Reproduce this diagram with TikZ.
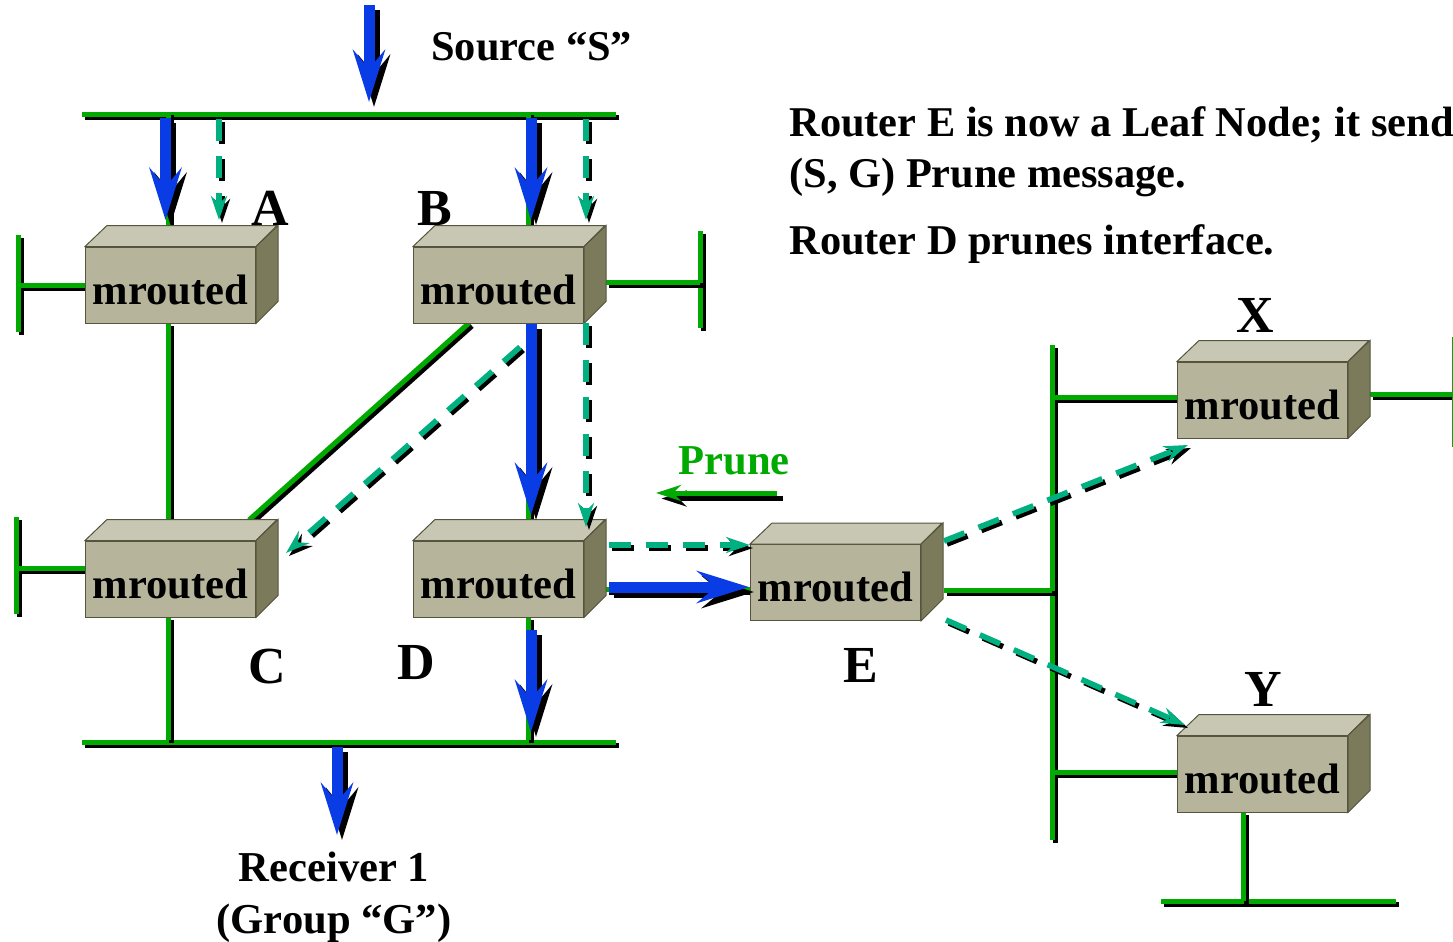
\documentclass[tikz,border=0pt]{standalone}
\usepackage{fontspec}
\setmainfont{Liberation Serif}
\usetikzlibrary{arrows.meta, calc}
\definecolor{wiregreen}{HTML}{00AA00}
\definecolor{flowblue}{HTML}{0A3CE6}
\definecolor{pruneteal}{HTML}{00B080}
\definecolor{boxfront}{HTML}{B6B59B}
\definecolor{boxtop}{HTML}{C8C7B3}
\definecolor{boxside}{HTML}{7B7B5B}
\definecolor{boxedge}{HTML}{55553F}
\tikzset{
    my-shadow/.style={
        draw=black, transform canvas={shift={(#1,-#1)}}
    },
    my-wire/.style={
        draw=wiregreen, line width=2.5pt
    },
    my-flow/.style={
        draw=flowblue, line width=5.5pt, -{Stealth[length=26pt, width=16pt, inset=9.5pt]}
    },
    my-dash/.style={
        draw=pruneteal, line width=2.8pt, dash pattern=on 11pt off 7.5pt,
        -{Stealth[length=12pt, width=8pt, inset=4pt]}
    },
    my-prune/.style={
        draw=wiregreen, line width=2.5pt, -{Stealth[length=12.5pt, width=8pt, inset=4pt]}
    },
    my-router/.style={
        draw=boxedge, fill=boxfront, line width=.5pt, minimum width=85pt,
        inner xsep=0pt, inner ysep=0pt, text height=28.5pt, text depth=9.5pt,
        font=\fontsize{21.3}{21.3}\selectfont\bfseries
    },
    my-label/.style={
        font=\fontsize{26}{26}\selectfont\bfseries, anchor=base, inner sep=0pt
    },
    my-text/.style={
        font=\fontsize{21.2}{21.2}\selectfont\bfseries, anchor=base west, inner sep=0pt
    },
    my-center-text/.style={
        font=\fontsize{21.3}{21.3}\selectfont\bfseries, anchor=base, inner sep=0pt
    },
}
% every line is drawn twice, black copy first
\newcommand{\myline}[4][1.5pt]{
    \draw[#2, my-shadow=#1] (#3) -- (#4);
    \draw[#2] (#3) -- (#4);
}
% box front is the node, top and side faces are added
\newcommand{\myrouter}[2]{
    \node[my-router] (#1) at (#2) {mrouted};
    \draw[draw=boxedge, fill=boxtop, line width=.5pt] (#1.north west) -- ++(22,-21) -- ++(170,0) -- (#1.north east) -- cycle;
    \draw[draw=boxedge, fill=boxside, line width=.5pt] (#1.north east) -- ++(22,-21) -- ++(0,76) -- (#1.south east) -- cycle;
}
\begin{document}
\begin{tikzpicture}[x=.5pt, y=-.5pt]
    \useasboundingbox (0,0) rectangle (1453,942);

    % ROUTER POSITIONS ----------------------------------------------------------------------------
    \coordinate[] (APOS) at (170.5, 285);
    \coordinate[] (BPOS) at (498.5, 285);
    \coordinate[] (CPOS) at (170.5, 579);
    \coordinate[] (DPOS) at (498.5, 579);
    \coordinate[] (EPOS) at (835.5, 582.5);
    \coordinate[] (XPOS) at (1262.5, 400);
    \coordinate[] (YPOS) at (1262.5, 774);

    % BUSES
    \coordinate[] (TOPL) at (82, 114);
    \coordinate[] (TOPR) at (616, 114);
    \coordinate[] (BOTL) at (82, 742);
    \coordinate[] (BOTR) at (616, 742);
    \coordinate[] (RIGHTT) at (1052, 345);
    \coordinate[] (RIGHTB) at (1052, 840);
    \coordinate[] (YBUSL) at (1161, 901);
    \coordinate[] (YBUSR) at (1396, 901);

    % WIRES ---------------------------------------------------------------------------------------
    \myline{my-wire}{TOPL}{TOPR}
    \myline{my-wire}{BOTL}{BOTR}
    \myline{my-wire}{RIGHTT}{RIGHTB}
    \myline{my-wire}{YBUSL}{YBUSR}

    % VERTICAL WIRES
    \myline{my-wire}{168.5,112}{168.5,246}
    \myline{my-wire}{528.5,112}{528.5,246}
    \myline{my-wire}{168.5,323}{168.5,541}
    \myline{my-wire}{528.5,323}{528.5,541}
    \myline{my-wire}{168.5,617}{168.5,740}
    \myline{my-wire}{528.5,617}{528.5,740}
    \myline{my-wire}{1243.5,812}{1243.5,901}

    % STUBS AND END BARS
    \myline{my-wire}{18.5,235}{18.5,332}
    \myline{my-wire}{18.5,285.5}{85,285.5}
    \myline{my-wire}{16,517}{16,614}
    \myline{my-wire}{16,568}{85,568}
    \myline{my-wire}{700,231}{700,328}
    \myline{my-wire}{606,282}{700,282}
    \myline{my-wire}{1370,394}{1453,394}
    \draw[draw=wiregreen, line width=1pt] (1452.5,337) -- (1452.5,447);

    % DIAGONAL AND LINKS
    \myline{my-wire}{469,323}{249,520}
    \myline{my-wire}{606,589}{750,589}
    \myline{my-wire}{944,590}{1052,590}
    \myline{my-wire}{1052,397}{1177,397}
    \myline{my-wire}{1052,772}{1177,772}

    % ROUTERS -------------------------------------------------------------------------------------
    \myrouter{A}{APOS}
    \myrouter{B}{BPOS}
    \myrouter{C}{CPOS}
    \myrouter{D}{DPOS}
    \myrouter{E}{EPOS}
    \myrouter{X}{XPOS}
    \myrouter{Y}{YPOS}

    % DATA FLOW -----------------------------------------------------------------------------------
    \coordinate[] (SRCIN) at (369, 5);
    \coordinate[] (SRCOUT) at (369, 102);
    \myline[2.5pt]{my-flow}{SRCIN}{SRCOUT}
    \myline[2.5pt]{my-flow}{165.5,118}{165.5,220}
    \myline[2.5pt]{my-flow}{531,118}{531,220}
    \myline[2.5pt]{my-flow}{531,324}{531,515}
    \myline[2.5pt]{my-flow}{531,630}{531,732}
    \myline[2.5pt]{my-flow}{337,747}{337,835}
    \myline[2.5pt]{my-flow}{609,587}{749,587}

    % PRUNE MESSAGES ------------------------------------------------------------------------------
    \myline{my-dash}{219,119}{219,220}
    \myline{my-dash}{586,119}{586,220}
    \myline{my-dash}{586,323}{586,527}
    \myline{my-dash}{520,347}{286,553}
    \myline{my-dash}{609,545}{750,545}
    \myline{my-dash}{944,541}{1188,445}
    \myline{my-dash}{946,620}{1185,725}
    \myline[2.75pt]{my-prune}{777,493}{656,493}

    % LABELS --------------------------------------------------------------------------------------
    \node[my-label] (LABELA) at (270, 225) {A};
    \node[my-label] (LABELB) at (435, 225) {B};
    \node[my-label] (LABELC) at (267.5, 683) {C};
    \node[my-label] (LABELD) at (416.5, 679) {D};
    \node[my-label] (LABELE) at (860.5, 682) {E};
    \node[my-label] (LABELX) at (1255, 332) {X};
    \node[my-label] (LABELY) at (1263.5, 706) {Y};

    \node[my-text] (SOURCE) at (431, 61) {Source “S”};
    \node[my-text] (NOTE1) at (789, 136) {Router E is now a Leaf Node; it send};
    \node[my-text] (NOTE2) at (789, 187) {(S, G) Prune message.};
    \node[my-text] (NOTE3) at (789, 254) {Router D prunes interface.};
    \node[my-center-text, text=wiregreen] (PRUNE) at (734, 474) {Prune};
    \node[my-center-text] (RECV1) at (334, 881) {Receiver 1};
    \node[my-center-text] (RECV2) at (334, 933) {(Group “G”)};

\end{tikzpicture}
\end{document}
